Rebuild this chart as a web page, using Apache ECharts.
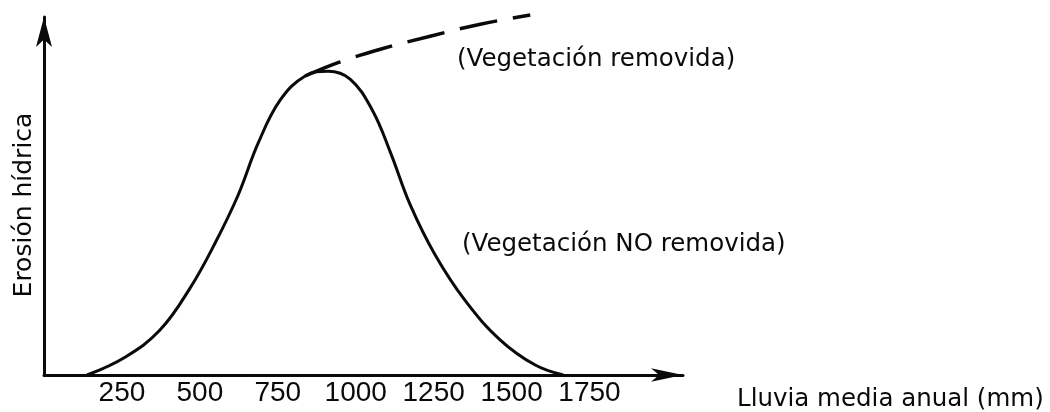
<!DOCTYPE html>
<html>
<head>
<meta charset="utf-8">
<script src="https://cdn.jsdelivr.net/npm/echarts@6/dist/echarts.min.js"></script>
<style>
  html, body { margin: 0; padding: 0; background: #ffffff; }
  #chart { width: 1050px; height: 412px; }
</style>
</head>
<body>
<div id="chart"></div>
<script>
// ---- data ----
const xTickValues = [250, 500, 750, 1000, 1250, 1500, 1750];
const xTickLabels = ['250', '500', '750', '1000', '1250', '1500', '1750'];

// Vegetación NO removida (solid curve)
const rainSolid    = [138, 260, 372, 469, 549, 623, 687, 758, 838, 912, 982, 1053, 1111, 1175, 1255, 1352, 1464, 1576, 1666];
const erosionSolid = [0, 5.2, 13.1, 25.4, 38.5, 52.5, 67.6, 80.2, 87.2, 88.6, 86.3, 77.3, 65.0, 49.6, 35.0, 21.6, 10.2, 2.9, 0];

// Vegetación removida (dashed curve)
const rainDashed    = [838, 950, 1079, 1239, 1400, 1560];
const erosionDashed = [87.2, 91.3, 95.0, 98.8, 102.3, 105];

const xAxisName = 'Lluvia media anual (mm)';
const yAxisName = 'Erosión hídrica';
const labelRemoved = '(Vegetación removida)';
const labelNotRemoved = '(Vegetación NO removida)';

// ---- chart ----
const pairs = (xs, ys) => xs.map((x, i) => [x, ys[i]]);
const ink = '#0a0a0a';
const annFont = '24.5px "DejaVu Sans"';

const chart = echarts.init(document.getElementById('chart'), null, { renderer: 'canvas' });
chart.setOption({
  backgroundColor: '#ffffff',
  animation: false,
  grid: { left: 44, right: 367, top: 17, bottom: 37 },
  xAxis: {
    type: 'value',
    min: 0, max: 2050, interval: 250,
    splitLine: { show: false },
    axisTick: { show: false },
    axisLine: {
      onZero: false,
      lineStyle: { color: ink, width: 3 },
      symbol: ['none', 'arrow'],
      symbolSize: [10, 32]
    },
    axisLabel: {
      margin: 4,
      color: ink,
      fontFamily: 'Liberation Sans',
      fontSize: 28,
      formatter: v => { const i = xTickValues.indexOf(v); return i >= 0 ? xTickLabels[i] : ''; }
    }
  },
  yAxis: {
    type: 'value',
    min: 0, max: 104.4,
    splitLine: { show: false },
    axisTick: { show: false },
    axisLabel: { show: false },
    axisLine: {
      show: true,
      lineStyle: { color: ink, width: 3 },
      symbol: ['none', 'arrow'],
      symbolSize: [12, 30]
    }
  },
  series: [
    {
      name: labelNotRemoved,
      type: 'line',
      data: pairs(rainSolid, erosionSolid),
      smooth: 0.4,
      showSymbol: false,
      clip: false,
      lineStyle: { color: ink, width: 3 }
    },
    {
      name: labelRemoved,
      type: 'line',
      data: pairs(rainDashed, erosionDashed),
      smooth: 0.4,
      showSymbol: false,
      clip: false,
      lineStyle: { color: ink, width: 3.5, type: [38, 16] }
    }
  ],
  graphic: [
    { type: 'text', x: 24, y: 205, rotation: Math.PI / 2,
      style: { text: yAxisName, fill: ink, font: '25px "DejaVu Sans"', textAlign: 'center', textVerticalAlign: 'middle' } },
    { type: 'text', left: 457, top: 47, style: { text: labelRemoved, fill: ink, font: annFont } },
    { type: 'text', left: 462, top: 232, style: { text: labelNotRemoved, fill: ink, font: annFont } },
    { type: 'text', left: 737, top: 387, style: { text: xAxisName, fill: ink, font: annFont } }
  ]
});
</script>
</body>
</html>
